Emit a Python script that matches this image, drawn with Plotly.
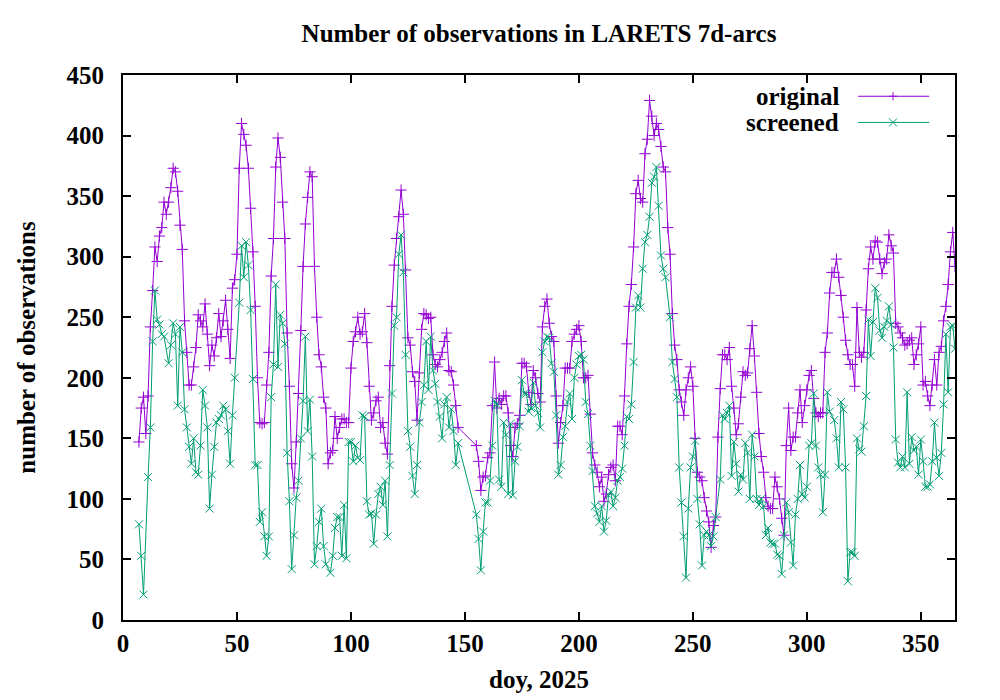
# -*- coding: utf-8 -*-
"""Number of observations in LARETS 7d-arcs, original vs screened (gnuplot-like look)."""

import plotly.graph_objects as go

# day of year, 2025 (one value per day; None = no point that day)
doy = list(range(7, 366))

original = [
    # 7-16
    147, 175, 184, 154, 185, 242, 272, 308, 296, 317,
    # 17-26
    324, 345, 335, 345, 357, 373, 370, 354, 326, 306,
    # 27-36
    247, 221, 194, 194, 209, 225, 252, 247, 242, 261,
    # 37-46
    236, 210, 227, 218, 233, 253, 234, 247, 264, 240,
    # 47-56
    216, 274, 281, 302, 373, 410, 401, 392, 373, 340,
    # 57-66
    304, 259, 200, 163, 162, 163, 194, 221, 284, 315,
    # 67-76
    374, 398, 382, 345, 315, 237, 193, 129, 109, 147,
    # 77-86
    187, 239, 292, 327, 349, 370, 366, 292, 250, 219,
    # 87-96
    209, 184, 175, 129, 138, 140, 168, 150, 159, 166,
    # 97-106
    166, 163, 163, 208, 230, 238, 250, 236, 238, 253,
    # 107-116
    229, 193, 165, 171, 181, 184, 159, 163, 146, 137,
    # 117-126
    210, 259, 293, 315, 333, 355, 335, 289, 233, 227,
    # 127-136
    205, 197, 165, 204, 240, 253, 252, 249, 250, 219,
    # 137-146
    211, 209, 215, 221, 230, 237, 206, 205, 194, 177,
    # 147-156
    159, None, None, None, None, None, None, None, 144, 131,
    # 157-166
    107, 118, 119, 134, 138, 177, 213, 175, 183, 178,
    # 167-176
    185, 185, 171, 144, 135, 159, 162, 169, 212, 212,
    # 177-186
    209, 188, 178, 206, 200, 187, 180, 242, 259, 265,
    # 187-196
    245, 234, 230, 185, 146, 163, 177, 208, 208, 208,
    # 197-206
    230, 236, 240, 243, 230, 200, 200, 202, 170, 138,
    # 207-216
    128, 122, 110, 118, 98, 104, 120, 126, 128, 115,
    # 217-226
    160, 160, 153, 185, 228, 259, 277, 308, 352, 363,
    # 227-236
    348, 345, 385, 397, 429, 416, 400, 410, 405, 391,
    # 237-246
    374, 370, 324, 302, 253, 227, 215, 190, 180, 169,
    # 247-256
    190, 200, 209, 193, 150, 122, 118, 115, 101, 90,
    # 257-266
    81, 60, 78, 85, 151, 191, 219, 219, 215, 225,
    # 267-276
    193, 175, 153, 162, 184, 205, 202, 204, 224, 243,
    # 277-286
    218, 188, 154, 135, 122, 101, 94, 92, 92, 118,
    # 287-296
    110, 100, 84, 70, 144, 175, 140, 151, 151, 171,
    # 297-306
    190, 163, 177, 190, 202, 206, 183, 171, 168, 171,
    # 307-316
    171, 221, 237, 270, 287, 287, 298, 283, 268, 250,
    # 317-326
    231, 219, 211, 211, 193, 258, 221, 217, 221, 256,
    # 327-336
    290, 308, 298, 313, 312, 298, 286, 295, 298, 318,
    # 337-346
    309, 303, 245, 242, 237, 233, 227, 228, 231, 233,
    # 347-356
    211, 219, 228, 242, 194, 197, 185, 177, 194, 215,
    # 357-365
    194, 221, 226, 247, 259, 277, 304, 320, 292,
]

screened = [
    # 7-16
    79, 53, 21, None, 118, 159, 230, 272, 248, 244,
    # 17-26
    236, 234, None, 212, 227, 245, 236, 177, 242, 221,
    # 27-36
    174, 159, 143, 129, 150, 122, 120, 144, 190, 177,
    # 37-46
    159, 92, 120, 143, 163, 166, 169, 177, 174, 156,
    # 47-56
    129, 169, 200, None, 262, 309, 283, 312, 293, 256,
    # 57-66
    199, 128, 128, 81, 89, 69, 53, 69, 184, 211,
    # 67-76
    277, 209, 252, 245, 228, 138, 98, 42, 70, 101,
    # 77-86
    115, 150, 181, 234, 156, 182, 135, 46, 61, 81,
    # 87-96
    92, 61, 46, None, 39, 53, 76, 85, 85, 53,
    # 97-106
    95, 51, 147, 147, 131, 144, 134, 132, 169, 168,
    # 107-116
    98, 87, 88, 63, 87, 104, 110, 95, 115, 69,
    # 117-126
    128, 187, 243, 250, 302, 318, 287, 219, 156, 143,
    # 127-136
    119, 104, 128, 163, 180, 194, 230, 190, 234, 206,
    # 137-146
    195, 180, 168, 150, 178, 184, 159, 174, 156, 128,
    # 147-156
    146, None, None, None, None, None, None, None, 87, 67,
    # 157-166
    41, 73, 97, 97, 115, 144, 181, 178, 116, 110,
    # 167-176
    163, 153, 104, 162, 103, 131, 143, 160, 198, 187,
    # 177-186
    187, 172, 175, 196, 177, 171, 159, 221, 230, 234,
    # 187-196
    233, 212, 205, 169, 120, 128, 151, 160, 180, 187,
    # 197-206
    166, 200, 211, 218, 219, 215, 180, 170, 144, 123,
    # 207-216
    94, 88, 81, 94, 73, 82, 103, 106, 94, 101,
    # 217-226
    115, 118, 125, 144, 168, 166, 178, 213, 258, 268,
    # 227-236
    258, 290, 312, 318, 333, 361, 366, 374, 342, 301,
    # 237-246
    290, 283, None, 250, 213, 199, 184, 126, 97, 69,
    # 247-256
    35, 92, 126, 135, 148, 100, 79, 45, 70, 73,
    # 257-266
    70, 61, 69, 85, None, 116, 169, 166, 171, 177,
    # 267-276
    119, 147, 129, 106, 120, 116, 146, 138, 100, 153,
    # 277-286
    135, 100, 95, 100, 94, 70, 76, 64, 63, 63,
    # 287-296
    54, 53, 38, 70, 97, 89, 64, 45, 87, 100,
    # 297-306
    128, 104, 101, 110, 144, 146, 187, 144, 126, 120,
    # 307-316
    89, 120, 188, 172, None, 165, 150, 126, 180, 174,
    # 317-326
    126, 32, 56, 56, 53, 150, 141, 139, 160, 185,
    # 327-336
    248, 218, 246, 274, 266, 239, 233, 242, 247, 259,
    # 337-346
    244, 225, 149, 130, 126, 135, 126, 188, 129, 151,
    # 347-356
    140, 143, 120, 149, 131, 110, 110, 112, 131, 163,
    # 357-365
    134, 119, 138, 178, 236, 188, 242, 243, 224,
]

x_ticks = [0, 50, 100, 150, 200, 250, 300, 350]
y_ticks = [0, 50, 100, 150, 200, 250, 300, 350, 400, 450]

PURPLE = "#9400d3"
GREEN = "#009e73"
FONT = dict(family="Liberation Serif", size=25, color="black", weight="bold")

fig = go.Figure()
fig.add_trace(go.Scatter(
    x=doy, y=original, mode="lines+markers", name="original", connectgaps=True,
    line=dict(color=PURPLE, width=1),
    marker=dict(symbol="cross-thin", size=8, line=dict(color=PURPLE, width=1))))
fig.add_trace(go.Scatter(
    x=doy, y=screened, mode="lines+markers", name="screened", connectgaps=True,
    line=dict(color=GREEN, width=1),
    marker=dict(symbol="x-thin", size=8, line=dict(color=GREEN, width=1))))

axis = dict(showline=True, linecolor="black", linewidth=2, mirror="ticks",
            ticks="inside", ticklen=8, tickwidth=1.5, tickcolor="black",
            showgrid=False, zeroline=False, tickfont=FONT, automargin=False)

fig.update_layout(
    width=1000, height=700,
    margin=dict(l=123, r=45, t=75, b=80),
    paper_bgcolor="white", plot_bgcolor="white",
    font=FONT, showlegend=False,
    title=dict(text="Number of observations in LARETS 7d-arcs",
               x=0.5, xref="paper", xanchor="center",
               y=1 - 33 / 700, yref="container", yanchor="middle",
               font=FONT),
)
fig.update_xaxes(range=[0, 365], tickvals=x_ticks, ticklabelstandoff=0,
                 title=dict(text="doy, 2025", font=FONT, standoff=14), **axis)
fig.update_yaxes(range=[0, 450], tickvals=y_ticks, ticklabelstandoff=12,
                 title=dict(text="number of observations", font=FONT, standoff=24), **axis)

# gnuplot-style key: label on the left, line sample with point on the right
key = [("original", PURPLE, "+", 0.961), ("screened", GREEN, "x", 0.913)]
dx, dy = 4 / 832, 4 / 545
for label, color, sym, ky in key:
    fig.add_annotation(text=label, x=0.863, y=ky, xref="paper", yref="paper",
                       xanchor="right", yanchor="middle", showarrow=False, font=FONT)
    fig.add_shape(type="line", x0=0.8835, x1=0.969, y0=ky, y1=ky, xref="paper", yref="paper",
                  line=dict(color=color, width=1))
    cx = 0.9255
    if sym == "+":
        segs = [(cx - dx, ky, cx + dx, ky), (cx, ky - dy, cx, ky + dy)]
    else:
        segs = [(cx - dx, ky - dy, cx + dx, ky + dy), (cx - dx, ky + dy, cx + dx, ky - dy)]
    for x0, y0, x1, y1 in segs:
        fig.add_shape(type="line", x0=x0, y0=y0, x1=x1, y1=y1, xref="paper", yref="paper",
                      line=dict(color=color, width=1))

# the page body has a default 8px margin; drop it so the figure sits at the window origin
fig.write_html("out.html", config={"displayModeBar": False},
               post_script="document.body.style.margin = '0';")
